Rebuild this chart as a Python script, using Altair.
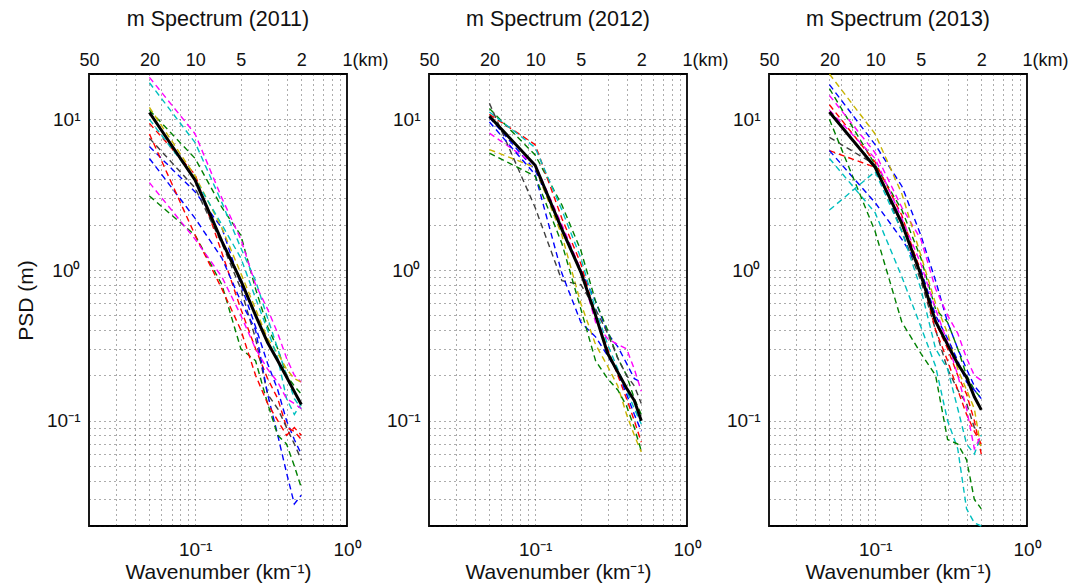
import altair as alt
import pandas as pd

# ---------------- data ----------------
K = [0.05, 0.10, 0.15, 0.20, 0.25, 0.30, 0.35, 0.40, 0.45, 0.50]   # wavenumber (km^-1)
YEARS = ["2011", "2012", "2013"]

X_GRID = [0.02, 0.03, 0.04, 0.05, 0.06, 0.07, 0.08, 0.09,
          0.1, 0.2, 0.3, 0.4, 0.5, 0.6, 0.7, 0.8, 0.9, 1.0]
Y_GRID = [0.02, 0.03, 0.04, 0.05, 0.06, 0.07, 0.08, 0.09,
          0.1, 0.2, 0.3, 0.4, 0.5, 0.6, 0.7, 0.8, 0.9,
          1.0, 2.0, 3.0, 4.0, 5.0, 6.0, 7.0, 8.0, 9.0, 10.0, 20.0]
TOP_TICKS = [0.02, 0.05, 0.1, 0.2, 0.5, 1.0]   # 50, 20, 10, 5, 2, 1 km

COLOR_CODES = ["b", "g", "r", "c", "m", "y", "k"]
COLOR_HEX = ["#0000ff", "#008000", "#ff0000", "#00bfbf", "#ff00ff", "#c8b400", "#404040"]

# mean spectra (black)
MEAN_2011 = [11.1, 3.95, 1.55, 0.85, 0.50, 0.33, 0.25, 0.195, 0.156, 0.128]
MEAN_2012 = [10.5, 4.96, 1.86, 0.97, 0.50, 0.28, 0.21, 0.164, 0.136, 0.10]
MEAN_2013 = [11.2, 4.8, 2.04, 0.93, 0.455, 0.32, 0.238, 0.194, 0.144, 0.118]

# individual spectra 2011 (dashed)
S2011_B1 = [6.6, 3.3, 1.9, 0.80, 0.42, 0.24, 0.16, 0.10, 0.075, 0.06]
S2011_B2 = [5.5, 2.2, 1.2, 0.62, 0.40, 0.15, 0.08, 0.045, 0.028, 0.032]
S2011_G1 = [11.5, 5.5, 2.6, 1.7, 0.75, 0.42, 0.30, 0.20, 0.17, 0.15]
S2011_G2 = [3.1, 1.7, 0.80, 0.30, 0.25, 0.13, 0.08, 0.07, 0.05, 0.036]
S2011_R1 = [9.4, 4.3, 1.3, 0.55, 0.30, 0.19, 0.14, 0.09, 0.085, 0.075]
S2011_R2 = [8.0, 1.7, 0.75, 0.40, 0.20, 0.13, 0.10, 0.08, 0.09, 0.08]
S2011_C1 = [17.5, 7.0, 2.8, 1.4, 0.85, 0.48, 0.30, 0.20, 0.14, 0.12]
S2011_C2 = [10.0, 4.0, 2.0, 1.2, 0.65, 0.40, 0.26, 0.14, 0.11, 0.13]
S2011_M1 = [19.0, 8.0, 3.0, 1.6, 0.80, 0.55, 0.38, 0.26, 0.20, 0.18]
S2011_M2 = [3.8, 1.6, 0.9, 0.50, 0.30, 0.22, 0.18, 0.14, 0.13, 0.12]
S2011_Y1 = [12.0, 4.2, 1.9, 0.95, 0.55, 0.35, 0.28, 0.22, 0.19, 0.18]
S2011_K1 = [7.5, 3.5, 1.5, 0.75, 0.35, 0.15, 0.12, 0.09, 0.07, 0.055]

# individual spectra 2012 (dashed)
S2012_B1 = [10.3, 4.6, 1.9, 1.0, 0.62, 0.38, 0.31, 0.24, 0.19, 0.18]
S2012_B2 = [9.6, 4.3, 0.95, 0.45, 0.36, 0.27, 0.21, 0.15, 0.11, 0.085]
S2012_G1 = [11.8, 5.8, 2.7, 1.35, 0.62, 0.40, 0.26, 0.20, 0.14, 0.11]
S2012_G2 = [5.96, 4.2, 1.5, 0.55, 0.25, 0.19, 0.16, 0.125, 0.09, 0.063]
S2012_R1 = [10.8, 6.8, 2.2, 1.1, 0.50, 0.30, 0.20, 0.14, 0.10, 0.072]
S2012_C1 = [11.2, 6.5, 2.5, 1.2, 0.55, 0.32, 0.22, 0.16, 0.12, 0.095]
S2012_M1 = [8.1, 5.0, 2.0, 1.0, 0.45, 0.35, 0.32, 0.30, 0.22, 0.157]
S2012_Y1 = [6.3, 4.8, 1.7, 0.60, 0.32, 0.23, 0.17, 0.11, 0.08, 0.062]
S2012_K1 = [12.8, 2.6, 0.85, 0.80, 0.55, 0.38, 0.26, 0.20, 0.17, 0.13]

# individual spectra 2013 (dashed)
S2013_B1 = [17.0, 6.8, 3.6, 1.7, 0.85, 0.45, 0.30, 0.22, 0.17, 0.15]
S2013_B2 = [6.2, 2.8, 1.6, 1.0, 0.50, 0.35, 0.25, 0.18, 0.16, 0.14]
S2013_G1 = [16.0, 5.0, 2.5, 1.2, 0.55, 0.45, 0.30, 0.20, 0.16, 0.14]
S2013_G2 = [10.0, 1.8, 0.45, 0.28, 0.20, 0.075, 0.07, 0.055, 0.030, 0.026]
S2013_R1 = [6.2, 4.8, 2.0, 1.0, 0.45, 0.30, 0.20, 0.15, 0.10, 0.06]
S2013_R2 = [12.5, 5.2, 2.3, 0.95, 0.40, 0.25, 0.16, 0.11, 0.085, 0.07]
S2013_C1 = [5.5, 2.4, 0.9, 0.42, 0.23, 0.10, 0.065, 0.026, 0.021, 0.02]
S2013_C2 = [2.5, 4.5, 1.8, 0.75, 0.30, 0.22, 0.12, 0.07, 0.06, 0.08]
S2013_M1 = [14.4, 6.0, 2.6, 1.6, 0.75, 0.50, 0.38, 0.26, 0.20, 0.185]
S2013_M2 = [11.5, 5.5, 2.2, 1.1, 0.55, 0.33, 0.20, 0.12, 0.065, 0.08]
S2013_Y1 = [20.0, 8.0, 3.2, 1.25, 0.60, 0.38, 0.22, 0.16, 0.12, 0.064]
S2013_K1 = [7.6, 5.0, 1.8, 0.85, 0.40, 0.22, 0.16, 0.13, 0.09, 0.09]

SERIES_2011 = [("b", S2011_B1), ("g", S2011_G1), ("r", S2011_R1), ("c", S2011_C1),
               ("m", S2011_M1), ("y", S2011_Y1), ("k", S2011_K1), ("b", S2011_B2),
               ("g", S2011_G2), ("r", S2011_R2), ("c", S2011_C2), ("m", S2011_M2)]
SERIES_2012 = [("b", S2012_B1), ("g", S2012_G1), ("r", S2012_R1), ("c", S2012_C1),
               ("m", S2012_M1), ("y", S2012_Y1), ("k", S2012_K1), ("b", S2012_B2),
               ("g", S2012_G2)]
SERIES_2013 = [("b", S2013_B1), ("g", S2013_G1), ("r", S2013_R1), ("c", S2013_C1),
               ("m", S2013_M1), ("y", S2013_Y1), ("k", S2013_K1), ("b", S2013_B2),
               ("g", S2013_G2), ("r", S2013_R2), ("c", S2013_C2), ("m", S2013_M2)]

FONT = "Liberation Sans"
TXT = "#111111"


def build_df(mean, series):
    rows = []
    for sid, (code, vals) in enumerate(series):
        for i, (k, v) in enumerate(zip(K, vals)):
            rows.append({"sid": f"s{sid}", "c": code, "k": k, "psd": v, "i": i})
    dash_df = pd.DataFrame(rows)
    mean_df = pd.DataFrame({"k": K, "psd": mean, "i": list(range(len(K)))})
    return dash_df, mean_df


def panel(year, mean, series, first):
    dash_df, mean_df = build_df(mean, series)
    xs = alt.Scale(type="log", domain=[0.02, 1.0], nice=False)
    ys = alt.Scale(type="log", domain=[0.02, 20.0], nice=False)

    x_axis = alt.Axis(
        orient="bottom", values=X_GRID,
        labelExpr="datum.value == 0.1 ? '10⁻¹' : (datum.value == 1 ? '10⁰' : '')",
        title="Wavenumber (km⁻¹)", grid=True, gridDash=[1, 4], gridColor="#222222",
        gridOpacity=0.75, gridWidth=1, domain=False, ticks=False,
        labelFont=FONT, labelFontSize=19, labelColor=TXT, labelPadding=14,
        labelOverlap=False, labelFlush=False,
        titleFont=FONT, titleFontSize=21, titleFontWeight="normal", titleColor=TXT,
        titlePadding=2,
    )
    y_axis = alt.Axis(
        orient="left", values=Y_GRID,
        labelExpr="datum.value == 0.1 ? '10⁻¹' : (datum.value == 1 ? '10⁰' : (datum.value == 10 ? '10¹' : ''))",
        title="PSD (m)" if first else "", grid=True, gridDash=[1, 4], gridColor="#222222",
        gridOpacity=0.75, gridWidth=1, domain=False, ticks=False,
        labelFont=FONT, labelFontSize=19, labelColor=TXT, labelPadding=9,
        labelOverlap=False, labelFlush=False,
        titleFont=FONT, titleFontSize=21, titleFontWeight="normal", titleColor=TXT,
        titlePadding=10,
    )
    top_axis = alt.Axis(
        orient="top", values=TOP_TICKS,
        labelExpr="datum.value >= 1 ? '1(km)' : '' + round(1 / datum.value)",
        labelAlign={"condition": {"test": "datum.value >= 1", "value": "left"}, "value": "center"},
        labelOffset={"condition": {"test": "datum.value >= 1", "value": -5}, "value": 0},
        title="", grid=False, domain=False, ticks=False,
        labelFont=FONT, labelFontSize=18, labelColor=TXT, labelPadding=5,
        labelOverlap=False, labelFlush=False,
    )

    dashed = alt.Chart(dash_df).mark_line(strokeDash=[6, 4], strokeWidth=1.4).encode(
        x=alt.X("k:Q", scale=xs, axis=x_axis),
        y=alt.Y("psd:Q", scale=ys, axis=y_axis),
        color=alt.Color("c:N", scale=alt.Scale(domain=COLOR_CODES, range=COLOR_HEX), legend=None),
        detail="sid:N",
        order="i:Q",
    )
    mean_line = alt.Chart(mean_df).mark_line(color="black", strokeWidth=3).encode(
        x=alt.X("k:Q", scale=xs, axis=None),
        y=alt.Y("psd:Q", scale=ys, axis=y_axis),
        order="i:Q",
    )
    top = alt.Chart(pd.DataFrame({"k": TOP_TICKS})).mark_point(opacity=0).encode(
        x=alt.X("k:Q", scale=xs, axis=top_axis),
    )
    return alt.layer(dashed, mean_line, top).resolve_axis(x="independent").properties(
        width=258, height=452,
        title=alt.TitleParams(f"m Spectrum ({year})", font=FONT, fontSize=21.5,
                              fontWeight="normal", color=TXT, offset=21, anchor="middle"),
    )


chart = alt.hconcat(
    panel(YEARS[0], MEAN_2011, SERIES_2011, True),
    panel(YEARS[1], MEAN_2012, SERIES_2012, False),
    panel(YEARS[2], MEAN_2013, SERIES_2013, False),
    spacing=82, bounds="flush",
).properties(
    padding={"left": 14, "top": 7, "right": 5, "bottom": 5},
    background="white",
).configure_view(stroke="black", strokeWidth=1.8)

chart.save("out.html", embed_options={"renderer": "svg", "actions": False})
